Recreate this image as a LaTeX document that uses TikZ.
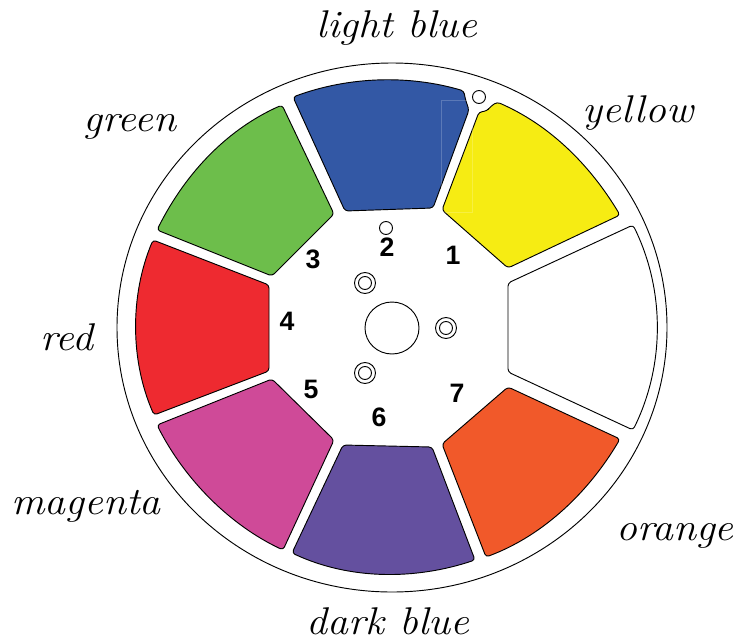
\documentclass[tikz,border=0pt]{standalone}
\usepackage{fontspec}
\newfontfamily\digitfont[Scale=1]{Liberation Sans}
\definecolor{cblue}{HTML}{3358A5}
\definecolor{cyellow}{HTML}{F6EC13}
\definecolor{cgreen}{HTML}{6DBE4B}
\definecolor{cred}{HTML}{EE2A30}
\definecolor{cmagenta}{HTML}{CF4A98}
\definecolor{cpurple}{HTML}{64509F}
\definecolor{corange}{HTML}{F1592A}
\newcommand{\wideit}[1]{\scalebox{1.08}[1]{#1}}
\tikzset{
  seg/.style={draw=black,line width=0.7pt,rounded corners=2.4pt,line join=round},
  ring/.style={draw=black,line width=0.7pt,fill=none},
  colname/.style={font=\fontsize{29}{32}\selectfont\itshape,inner sep=0pt,anchor=base,text=black},
  num/.style={font=\fontsize{20}{23}\selectfont\digitfont\bfseries,inner sep=0pt,text=black}
}
\begin{document}
\begin{tikzpicture}[x=0.75pt,y=-0.75pt]
\useasboundingbox (0,0) rectangle (739,640);
% wheel
\draw[ring] (392,327.5) ellipse [x radius=275,y radius=264.5];
% segments
\draw[seg,fill=cblue] (293,97) .. controls (350,76) and (410,75) .. (464,91) -- (465,98) -- (469,110) -- (433,208) -- (345,211) -- cycle;
\draw[seg,fill=cyellow] (497,102) .. controls (550,125) and (590,165) .. (620,215) -- (508,268) -- (442,210) -- (479,112) -- (487,111) -- (490,107) -- cycle;
\draw[seg,fill=cgreen] (282,105) .. controls (230,128) and (187,170) .. (157,230) -- (272,276) -- (334,214) -- cycle;
\draw[seg,fill=cred] (153,240) .. controls (130,295) and (130,360) .. (154,415) -- (269,371) -- (269,285) -- cycle;
\draw[seg,fill=cmagenta] (157,425) .. controls (185,480) and (230,525) .. (283,550) -- (334,440) -- (272,379) -- cycle;
\draw[seg,fill=cpurple] (292,553) .. controls (350,580) and (415,580) .. (475,560) -- (432,447) -- (343,445) -- cycle;
\draw[seg,fill=corange] (620,439) .. controls (590,490) and (545,535) .. (486,557) -- (442,444) -- (508,387) -- cycle;
\draw[seg,fill=white] (633,225) .. controls (665,290) and (665,365) .. (633,430) -- (508,372) -- (508,283) -- cycle;
% faint frame
\draw[white,opacity=0.2,line width=0.5pt] (441,100) rectangle (472,212);
% small holes
\draw[ring] (386,228) circle [radius=6.5];
\draw[ring] (479,97) circle [radius=6.5];
\draw[ring] (392,328) ellipse [x radius=27,y radius=26];
\foreach \p in {(365,283),(446,328),(365,373)}{
  \draw[ring] \p circle [radius=10.5];
  \draw[ring] \p circle [radius=6.5];
}
% numbers
\node[num] (n1) at (453,255) {1};
\node[num] (n2) at (387,247) {2};
\node[num] (n3) at (313,259) {3};
\node[num] (n4) at (287,321) {4};
\node[num] (n5) at (311,389) {5};
\node[num] (n6) at (379,417) {6};
\node[num] (n7) at (457,393) {7};
% names
\node[colname] (lb) at (397,37) {\wideit{light blue}};
\node[colname] (ye) at (638,122) {\wideit{yellow}};
\node[colname] (gr) at (130,131) {\wideit{green}};
\node[colname] (re) at (67,350) {\wideit{red}};
\node[colname] (ma) at (86,514) {\wideit{magenta}};
\node[colname] (or) at (675,540) {\wideit{orange}};
\node[colname] (db) at (388,634) {\wideit{dark blue}};
\end{tikzpicture}
\end{document}
